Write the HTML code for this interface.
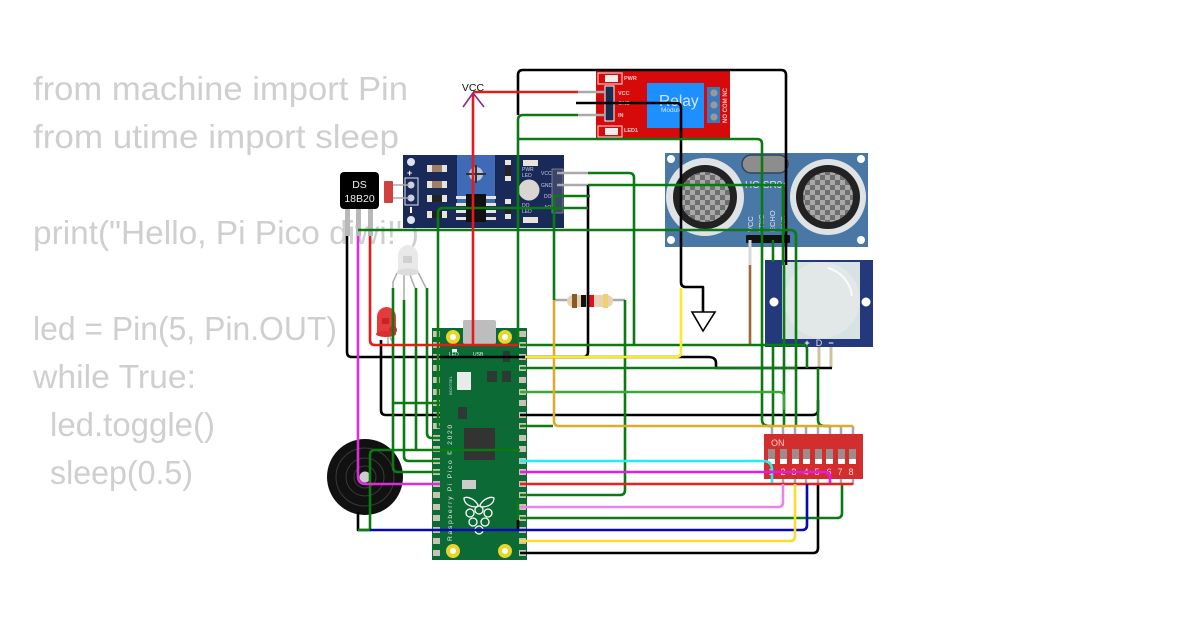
<!DOCTYPE html>
<html><head><meta charset="utf-8"><style>
html,body{margin:0;padding:0;background:#fff;width:1200px;height:630px;overflow:hidden}
svg{display:block}
text{font-family:"Liberation Sans",sans-serif}
.code text{font-size:33px;fill:#cfcfcf}
.w{fill:none;stroke-width:2.6;stroke-linejoin:round}
.g{stroke:#0b7a12}
</style></head><body>
<svg width="1200" height="630" viewBox="0 0 1200 630" xmlns="http://www.w3.org/2000/svg">
<rect width="1200" height="630" fill="#fff"/>
<g class="code">
<text x="33" y="100" textLength="375" lengthAdjust="spacingAndGlyphs">from machine import Pin</text>
<text x="33" y="148" textLength="366" lengthAdjust="spacingAndGlyphs">from utime import sleep</text>
<text x="33" y="244" textLength="386" lengthAdjust="spacingAndGlyphs">print("Hello, Pi Pico diwi!")</text>
<text x="33" y="340" textLength="304" lengthAdjust="spacingAndGlyphs">led = Pin(5, Pin.OUT)</text>
<text x="33" y="388" textLength="163" lengthAdjust="spacingAndGlyphs">while True:</text>
<text x="50" y="436" textLength="165" lengthAdjust="spacingAndGlyphs">led.toggle()</text>
<text x="50" y="484" textLength="143" lengthAdjust="spacingAndGlyphs">sleep(0.5)</text>
</g>

<!-- Relay -->
<rect x="596" y="70" width="134" height="68" fill="#d60a0a"/>
<rect x="598" y="73" width="24" height="11" fill="none" stroke="#f4c0c0" stroke-width="1.2"/><rect x="605" y="75" width="13" height="7" fill="#eee"/>
<rect x="598" y="126" width="24" height="11" fill="none" stroke="#f4c0c0" stroke-width="1.2"/><rect x="605" y="128" width="13" height="7" fill="#eee"/>
<rect x="605" y="86" width="9" height="35" fill="#1d2a50" stroke="#fff" stroke-width="1"/>
<rect x="647" y="83" width="57" height="45" fill="#1e8fff"/>
<text x="659" y="106" font-size="15.5" fill="#cfe6ff">Relay</text>
<text x="661" y="112" font-size="6.5" fill="#cfe6ff">Module</text>
<rect x="707" y="87" width="13" height="36" fill="#3d79b8"/>
<circle cx="714" cy="93" r="3.6" fill="#999"/><circle cx="714" cy="105" r="3.6" fill="#999"/><circle cx="714" cy="117" r="3.6" fill="#999"/>
<g font-size="5.5" fill="#f6c8c8" font-weight="bold"><text x="624" y="80">PWR</text><text x="618" y="95">VCC</text><text x="618" y="105">GND</text><text x="618" y="117">IN</text><text x="624" y="132">LED1</text>
<text transform="translate(727,123) rotate(-90)" font-size="6">NO COM NC</text></g>

<!-- LDR module -->
<rect x="403" y="155" width="161" height="73" fill="#1a2a58"/>
<circle cx="411" cy="162" r="4" fill="#dfe3ea"/><circle cx="411" cy="220" r="4" fill="#dfe3ea"/>
<text x="407" y="176" font-size="9" fill="#fff" font-weight="bold">+</text><rect x="410" y="207" width="2" height="6" fill="#fff"/>
<rect x="405" y="178" width="13" height="27" fill="none" stroke="#dfe3ea" stroke-width="1"/>
<circle cx="411" cy="185" r="3.5" fill="#cbd3e0"/><circle cx="411" cy="198" r="3.5" fill="#cbd3e0"/>
<rect x="457" y="155" width="38" height="48" fill="#3f6ab5"/>
<circle cx="476" cy="174" r="7" fill="#b9c4d8"/><path d="M466 174h20M476 165v18" stroke="#333" stroke-width="2"/>
<g fill="#e8e4dc"><rect x="427" y="165" width="20" height="7"/><rect x="427" y="181" width="20" height="7"/><rect x="427" y="195" width="20" height="7"/><rect x="427" y="211" width="20" height="7"/>
<rect x="505" y="160" width="6" height="5"/><rect x="505" y="176" width="6" height="5"/><rect x="505" y="199" width="6" height="5"/><rect x="505" y="214" width="6" height="5"/>
<rect x="456" y="196" width="40" height="3"/><rect x="456" y="203" width="40" height="3"/><rect x="456" y="210" width="40" height="3"/><rect x="456" y="217" width="40" height="3"/>
<rect x="523" y="160" width="15" height="6"/><rect x="523" y="217" width="15" height="6"/></g>
<rect x="432" y="165" width="10" height="7" fill="#a07f62"/><rect x="432" y="181" width="10" height="7" fill="#a07f62"/><rect x="432" y="195" width="10" height="7" fill="#222"/><rect x="432" y="211" width="10" height="7" fill="#222"/>
<rect x="466" y="194" width="20" height="28" fill="#111"/>
<rect x="505" y="166" width="6" height="10" fill="#222"/><rect x="505" y="205" width="6" height="9" fill="#222"/>
<circle cx="529" cy="190" r="10.5" fill="#d9d5d2"/>
<g font-size="5" fill="#c7cfe0"><text x="522" y="171">PWR</text><text x="522" y="177">LED</text><text x="522" y="207">DO</text><text x="522" y="213">LED</text><text x="541" y="175">VCC</text><text x="541" y="187">GND</text><text x="544" y="198">DO</text><text x="544" y="209">AO</text></g>
<rect x="552" y="169" width="11" height="44" fill="#3a4568" stroke="#99a" stroke-width=".7"/>

<!-- DS18B20 -->
<rect x="345" y="206" width="5" height="30" fill="#b8b8b8"/><rect x="356" y="206" width="5" height="30" fill="#b8b8b8"/><rect x="368" y="206" width="5" height="30" fill="#b8b8b8"/>
<rect x="340" y="172" width="39" height="37" rx="4" fill="#000"/>
<text x="359.5" y="188" font-size="10.5" fill="#eee" text-anchor="middle">DS</text>
<text x="359.5" y="202" font-size="10.5" fill="#eee" text-anchor="middle">18B20</text>
<rect x="384" y="181" width="9" height="22" rx="1" fill="#d0413f"/>
<path d="M393 185h16M393 198h16" stroke="#aaa" stroke-width="1.4"/>

<!-- HC-SR04 -->
<rect x="665" y="153" width="203" height="94" fill="#4a78a6"/>
<circle cx="671" cy="159" r="4" fill="#fff"/><circle cx="861" cy="159" r="4" fill="#fff"/><circle cx="671" cy="240" r="4" fill="#fff"/><circle cx="861" cy="240" r="4" fill="#fff"/>
<defs><pattern id="ck" width="10" height="10" patternUnits="userSpaceOnUse"><rect width="10" height="10" fill="#6f6f6f"/><rect width="5" height="5" fill="#a8a8a8"/><rect x="5" y="5" width="5" height="5" fill="#a8a8a8"/></pattern></defs>
<circle cx="705" cy="197" r="39" fill="#dfe3e6"/><circle cx="705" cy="197" r="32" fill="#222"/><circle cx="705" cy="197" r="25" fill="url(#ck)"/>
<circle cx="828" cy="197" r="38" fill="#dfe3e6"/><circle cx="828" cy="197" r="32" fill="#222"/><circle cx="828" cy="197" r="25" fill="url(#ck)"/>
<rect x="742" y="155" width="46" height="18" rx="9" fill="#8d8d8d" stroke="#345" stroke-width="1.5"/>
<text x="745" y="188" font-size="10" fill="#dde6ef">HC-SR04</text>
<g font-size="7.5" fill="#dde6ef"><text transform="translate(753,232) rotate(-90)">VCC</text><text transform="translate(764,232) rotate(-90)">TRIG</text><text transform="translate(775,232) rotate(-90)">ECHO</text><text transform="translate(786,232) rotate(-90)">GND</text></g>
<rect x="746" y="235" width="44" height="8" rx="1" fill="#111"/>
<path d="M750 240v25" stroke="#d8d8d8" stroke-width="3"/>

<!-- PIR -->
<rect x="765" y="260" width="108" height="87" fill="#24397c"/>
<rect x="782" y="262" width="78" height="77" fill="#d7e2e4"/>
<circle cx="822" cy="300" r="38" fill="#e2e7e8"/>
<path d="M828 268a33 33 0 0 1 24 28" fill="none" stroke="#fff" stroke-width="2" opacity=".8"/>
<circle cx="774" cy="302" r="4.5" fill="#fff"/><circle cx="866" cy="302" r="4.5" fill="#fff"/>
<text x="807" y="346" font-size="9" fill="#fff" text-anchor="middle" font-weight="bold">+</text><text x="819" y="346" font-size="9" fill="#dde" text-anchor="middle">D</text><text x="831" y="346" font-size="9" fill="#fff" text-anchor="middle" font-weight="bold">−</text>
<path d="M819 347v21M831 347v21" stroke="#cfc39c" stroke-width="3"/>

<!-- Pico -->
<rect x="432" y="328" width="95" height="232" fill="#0c6a35"/>
<rect x="463" y="320" width="33" height="24" rx="2" fill="#bdbdbd"/>
<g id="pins" fill="#c8c4b4">
<rect x="433" y="331" width="7" height="6"/><rect x="519" y="331" width="7" height="6"/>
<rect x="433" y="342" width="7" height="6"/><rect x="519" y="342" width="7" height="6"/>
<rect x="433" y="354" width="7" height="6"/><rect x="519" y="354" width="7" height="6"/>
<rect x="433" y="365" width="7" height="6"/><rect x="519" y="365" width="7" height="6"/>
<rect x="433" y="377" width="7" height="6"/><rect x="519" y="377" width="7" height="6"/>
<rect x="433" y="389" width="7" height="6"/><rect x="519" y="389" width="7" height="6"/>
<rect x="433" y="400" width="7" height="6"/><rect x="519" y="400" width="7" height="6"/>
<rect x="433" y="412" width="7" height="6"/><rect x="519" y="412" width="7" height="6"/>
<rect x="433" y="423" width="7" height="6"/><rect x="519" y="423" width="7" height="6"/>
<rect x="433" y="435" width="7" height="6"/><rect x="519" y="435" width="7" height="6"/>
<rect x="433" y="446" width="7" height="6"/><rect x="519" y="446" width="7" height="6"/>
<rect x="433" y="458" width="7" height="6"/><rect x="519" y="458" width="7" height="6"/>
<rect x="433" y="469" width="7" height="6"/><rect x="519" y="469" width="7" height="6"/>
<rect x="433" y="481" width="7" height="6"/><rect x="519" y="481" width="7" height="6"/>
<rect x="433" y="492" width="7" height="6"/><rect x="519" y="492" width="7" height="6"/>
<rect x="433" y="504" width="7" height="6"/><rect x="519" y="504" width="7" height="6"/>
<rect x="433" y="515" width="7" height="6"/><rect x="519" y="515" width="7" height="6"/>
<rect x="433" y="527" width="7" height="6"/><rect x="519" y="527" width="7" height="6"/>
<rect x="433" y="538" width="7" height="6"/><rect x="519" y="538" width="7" height="6"/>
<rect x="433" y="550" width="7" height="6"/><rect x="519" y="550" width="7" height="6"/>
</g>
<g fill="#fff" stroke="#e6d62a" stroke-width="4"><circle cx="453" cy="337" r="5"/><circle cx="505" cy="337" r="5"/><circle cx="453" cy="551" r="5"/><circle cx="505" cy="551" r="5"/></g>
<rect x="457" y="372" width="14" height="18" fill="#e8ece8"/>
<rect x="487" y="371" width="10" height="11" fill="#2c3a34"/><rect x="502" y="371" width="9" height="11" fill="#2c3a34"/>
<rect x="503" y="351" width="7" height="11" fill="#2c3a34"/><rect x="458" y="407" width="9" height="12" fill="#2c3a34"/>
<rect x="464" y="428" width="31" height="32" fill="#333"/>
<rect x="462" y="480" width="14" height="9" fill="#ccc"/>
<rect x="452" y="349" width="5" height="3" fill="#eee"/>
<g font-size="5" fill="#dfe"><text x="449" y="356">LED</text><text x="473" y="356">USB</text></g>
<text transform="translate(452,541) rotate(-90)" font-size="6.7" fill="#e8f0e8" letter-spacing="1.7">Raspberry Pi Pico © 2020</text>
<text transform="translate(452,395) rotate(-90)" font-size="4" fill="#cde">BOOTSEL</text>
<g fill="none" stroke="#fff" stroke-width="1.3"><circle cx="479" cy="510" r="4"/><circle cx="470" cy="513" r="4"/><circle cx="488" cy="513" r="4"/><circle cx="473" cy="522" r="4"/><circle cx="485" cy="522" r="4"/><circle cx="479" cy="530" r="4"/>
<path d="M478 505c-3-6-11-9-14-7 0 6 6 9 13 9zM480 505c3-6 11-9 14-7 0 6-6 9-13 9z"/></g>

<!-- Buzzer -->
<circle cx="365" cy="477" r="38" fill="#111"/>
<g fill="none" stroke="#3a3a3a" stroke-width="1"><circle cx="365" cy="477" r="29"/><circle cx="365" cy="477" r="19"/><circle cx="365" cy="477" r="11"/></g>
<circle cx="365" cy="477" r="5.5" fill="#ccc"/>

<!-- LEDs -->
<path d="M397 273L393 282V288M404 274V300M410 275L415 288M418 272L426 288" fill="none" stroke="#aaa" stroke-width="1.5"/>
<path d="M398 272v-16a10 11 0 0 1 20 0v16z" fill="#e9e9e9"/><ellipse cx="408" cy="272" rx="11" ry="3.5" fill="#dcdcdc"/>
<rect x="403" y="256" width="9" height="7" fill="#d0d0d0"/>
<path d="M388 337v8M390 337l4 8" stroke="#aaa" stroke-width="1.5"/>
<path d="M377 334v-17a9.5 10 0 0 1 19 0v17z" fill="#e43b3b"/><circle cx="393" cy="330" r="4" fill="#c92a2a"/><ellipse cx="386" cy="334" rx="10" ry="3" fill="#d83030"/>
<rect x="382" y="318" width="7" height="6" fill="#c22"/>

<!-- Resistor -->
<path d="M554 300h71" stroke="#aaa" stroke-width="2.5"/>
<rect x="567" y="295" width="46" height="12" rx="6" fill="#e6d3b5"/>
<rect x="572" y="294" width="5" height="14" fill="#8a5a2b"/><rect x="581" y="295" width="5" height="12" fill="#111"/><rect x="589" y="295" width="5" height="12" fill="#e01020"/><rect x="603" y="294" width="5" height="14" fill="#f0d070"/>

<!-- DIP -->
<g stroke="#a8a8a8" stroke-width="2.5"><path d="M772 426v8M783 426v8M795 426v8M806 426v8M818 426v8M830 426v8M841 426v8M853 426v8M772 479v6M783 479v6M795 479v6M806 479v6M818 479v6M830 479v6M841 479v6M853 479v6"/></g>
<rect x="764" y="434" width="99" height="45" fill="#d42d2d"/>
<text x="771" y="446" font-size="9" fill="#f4cfcf">ON</text>
<g fill="#9c8c8c"><rect x="768" y="449" width="7" height="10"/><rect x="780" y="449" width="7" height="10"/><rect x="792" y="449" width="7" height="10"/><rect x="803" y="449" width="7" height="10"/><rect x="815" y="449" width="7" height="10"/><rect x="826" y="449" width="7" height="10"/><rect x="838" y="449" width="7" height="10"/><rect x="849" y="449" width="7" height="10"/></g>
<g fill="#fff"><rect x="768" y="459" width="7" height="5"/><rect x="780" y="459" width="7" height="5"/><rect x="792" y="459" width="7" height="5"/><rect x="803" y="459" width="7" height="5"/><rect x="815" y="459" width="7" height="5"/><rect x="826" y="459" width="7" height="5"/><rect x="838" y="459" width="7" height="5"/><rect x="849" y="459" width="7" height="5"/></g>
<g font-size="9" fill="#f6d5d5" text-anchor="middle"><text x="771" y="475">1</text><text x="783" y="475">2</text><text x="794" y="475">3</text><text x="806" y="475">4</text><text x="817" y="475">5</text><text x="829" y="475">6</text><text x="840" y="475">7</text><text x="851" y="475">8</text></g>

<!-- Wires -->
<g class="w">
<path d="M578 92H605M578 115H605M557 173H588M557 185H588" stroke="#aaa" fill="none"/>
<path d="M518 115V75Q518 70 523 70H781Q786 70 786 75V265" stroke="#000"/>
<path d="M347 236V352Q347 357 352 357H708Q716 357 716 363V368H832" stroke="#000"/>
<path d="M588 185V352Q588 356 584 357H522" stroke="#000"/>
<path d="M381 340V410Q381 415 386 415H440M520 415H812Q818 415 818 410V400" stroke="#000"/>
<path d="M576 103H676Q681 103 681 108V282Q681 287 686 287H703V312" stroke="#000"/>
<path d="M358 512V530H370M518 520V530" stroke="#000"/>
<path d="M520 553H813Q818 553 818 548V484" stroke="#000"/>
<path d="M750 265V345" stroke="#a0663a"/>
<path d="M518 345V120Q518 115 523 115H578" class="g"/>
<path d="M518 139H757Q762 139 762 144V420Q762 426 770 426H772" class="g"/>
<path d="M588 173H629Q634 173 634 178V345" class="g"/>
<path d="M553 196H590M554 196V300" class="g"/>
<path d="M588 208H443Q438 208 438 213V427H440" class="g"/>
<path d="M358 230H790Q796 230 796 236V426" class="g"/>
<path d="M588 185H783V265" class="g"/>
<path d="M773 240V262M773 345V426" class="g"/>
<path d="M784 265V426" class="g"/>
<path d="M520 345H803Q807 345 807 349V368" class="g"/>
<path d="M520 368H795" class="g"/>
<path d="M818 368V420Q818 426 825 426H830" class="g"/>
<path d="M520 426H553" class="g"/>
<path d="M393 288V467Q393 472 398 472H440" class="g"/>
<path d="M393 403H440" class="g"/>
<path d="M404 300V456Q404 461 409 461H440" class="g"/>
<path d="M416 288V450" class="g"/>
<path d="M427 288V433Q427 438 432 438H440" class="g"/>
<path d="M358 530H370V455Q370 450 375 450H520" class="g"/>
<path d="M520 495H620Q625 495 625 490V300" class="g"/>
<path d="M520 518H837Q842 518 842 513V484" class="g"/>
<path d="M518 518V500" class="g"/>
<path d="M520 392H779Q784 392 784 397V410" stroke="#38a838"/>
<path d="M554 300V421Q554 426 559 426H853" stroke="#dcac2c"/>
<path d="M525 357H676Q681 357 681 352V288" stroke="#f6ec2a"/>
<path d="M520 461H763Q772 461 772 470V485" stroke="#22eeee"/>
<path d="M520 472H825Q830 472 830 477V485" stroke="#e619e6"/>
<path d="M520 484H853" stroke="#ea2020"/>
<path d="M520 507H778Q783 507 783 502V484" stroke="#ec82ec"/>
<path d="M370 530H802Q807 530 807 525V484" stroke="#0808b0"/>
<path d="M520 541H790Q795 541 795 536V484" stroke="#f8dc30"/>
<path d="M358 236V476Q358 484 366 484H440" stroke="#e02ae0"/>
<path d="M370 236V340Q370 345 375 345H518" stroke="#e01c1c"/>
<path d="M473 345V93M473 92H578" stroke="#e01c1c"/>
</g>
<path d="M463 107L473 93L484 107" fill="none" stroke="#8a2a8a" stroke-width="1.6"/>
<text x="473" y="91" font-size="10.5" fill="#111" text-anchor="middle">VCC</text>
<path d="M692 312H715L703 331Z" fill="#fff" stroke="#000" stroke-width="1.6"/>
</svg>
</body></html>
